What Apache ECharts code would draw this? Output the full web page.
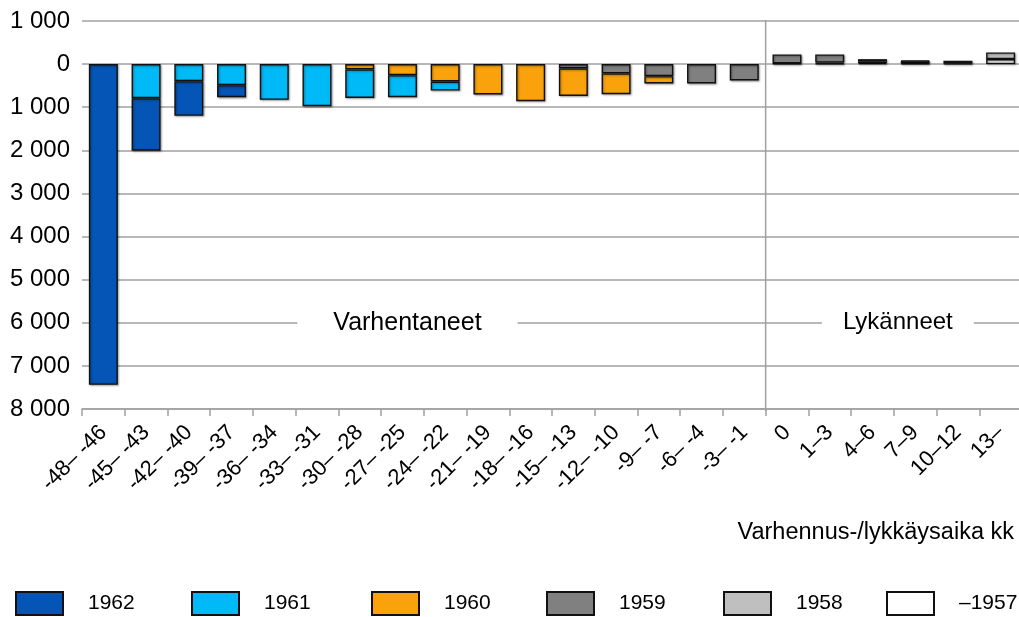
<!DOCTYPE html>
<html>
<head>
<meta charset="utf-8">
<script src="https://cdn.jsdelivr.net/npm/echarts@6/dist/echarts.min.js"></script>
<style>
html,body{margin:0;padding:0;background:#fff;}
#chart{width:1019px;height:617px;}
</style>
</head>
<body>
<div id="chart"></div>
<script>
// Categories: early retirement (Varhentaneet, first 16) and postponed (Lykänneet)
const categories = ['-48– -46','-45– -43','-42– -40','-39– -37','-36– -34','-33– -31','-30– -28','-27– -25','-24– -22','-21– -19','-18– -16','-15– -13','-12– -10','-9– -7','-6– -4','-3– -1','0','1–3','4–6','7–9','10–12','13–'];
const earlyCount = 16; // categories drawn downward (Varhentaneet)

// Counts per birth cohort (positive numbers)
const y1962 = [7440,1220,805,280,0,0,0,0,0,0,0,0,0,0,0,0, 0,0,0,0,0,0];
const y1961 = [0,790,395,488,829,977,660,510,210,0,0,0,0,0,0,0, 0,0,0,0,0,0];
const y1960 = [0,0,0,0,0,0,124,256,403,705,860,637,480,170,0,0, 0,0,0,0,0,0];
const y1959 = [0,0,0,0,0,0,0,0,0,0,0,100,217,279,450,380, 210,190,50,15,0,0];
const y1958 = [0,0,0,0,0,0,0,0,0,0,0,0,0,0,0,0, 15,25,40,45,65,155];
const y1957 = [0,0,0,0,0,0,0,0,0,0,0,0,0,0,0,0, 0,10,25,20,13,116];

const legendOrder = ['1962','1961','1960','1959','1958','–1957'];
const legendLefts = [10,186,366,541,718,881];

const seriesDefs = [
  {name:'–1957', data:y1957, color:'#FFFFFF'},
  {name:'1958', data:y1958, color:'#BFBFBF'},
  {name:'1959', data:y1959, color:'#808080'},
  {name:'1960', data:y1960, color:'#F9A20B'},
  {name:'1961', data:y1961, color:'#00B9F7'},
  {name:'1962', data:y1962, color:'#0455B5'}
];

function fmt(v){
  const a = Math.abs(v);
  return String(a).replace(/\B(?=(\d{3})+(?!\d))/g,' ');
}

const FONT = 'Liberation Sans';
const chart = echarts.init(document.getElementById('chart'), null, {renderer:'canvas'});

const option = {
  animation:false,
  backgroundColor:'#fff',
  textStyle:{fontFamily:FONT},
  title:{
    text:'Varhennus-/lykkäysaika kk',
    right:0, top:516,
    textStyle:{fontFamily:FONT, fontSize:23.5, fontWeight:'normal', color:'#000'}
  },
  legend: legendOrder.map((name, k) => ({
    data:[name],
    left:legendLefts[k], top:586,
    itemWidth:47, itemHeight:23,
    icon:'rect',
    textStyle:{fontFamily:FONT, fontSize:21, color:'#000', padding:[0,0,0,20]}
  })),
  grid:{left:82, width:940, top:21, bottom:208, containLabel:false, outerBoundsMode:'none'},
  xAxis:{
    type:'category',
    data:categories,
    position:'bottom',
    axisLine:{onZero:false, lineStyle:{color:'#A0A0A0', width:1.5}},
    axisTick:{show:true, length:7, alignWithLabel:false, lineStyle:{color:'#A0A0A0', width:1.5}},
    axisLabel:{rotate:45, margin:20, interval:0, fontFamily:FONT, fontSize:22, color:'#000'},
    splitLine:{show:false}
  },
  yAxis:{
    type:'value',
    inverse:true,
    min:-1000, max:8000, interval:1000,
    axisLine:{show:false},
    axisTick:{show:false},
    axisLabel:{formatter:fmt, margin:12, fontFamily:FONT, fontSize:24, color:'#000'},
    splitLine:{lineStyle:{color:'#A0A0A0', width:1.5}}
  },
  series: seriesDefs.map(s => ({
    name:s.name,
    type:'bar',
    stack:'all',
    barWidth:29,
    data:s.data.map((v,i) => v === 0 ? null : (i < earlyCount ? v : -v)),
    itemStyle:{
      color:s.color,
      borderColor:'#111',
      borderWidth:1.4,
      shadowColor:'rgba(0,0,0,0.35)',
      shadowBlur:2,
      shadowOffsetX:1,
      shadowOffsetY:1
    }
  }))
};
chart.setOption(option);

// Section separator and region labels, positioned through the axes
const px = i => chart.convertToPixel({xAxisIndex:0}, i);
const py = v => chart.convertToPixel({yAxisIndex:0}, v);
const sepX = (px(earlyCount-1) + px(earlyCount)) / 2;
chart.setOption({
  graphic:[
    {type:'line', z:5, shape:{x1:sepX, y1:py(-1000)-1, x2:sepX, y2:py(8000)+2},
     style:{stroke:'#A0A0A0', lineWidth:1.5}},
    {type:'text', z:6, x:px(7)+5, y:py(6000),
     style:{text:'Varhentaneet', fill:'#000', font:'25px "Liberation Sans"', align:'center', verticalAlign:'middle',
            backgroundColor:'#fff', padding:[2,36]}},
    {type:'text', z:6, x:(px(18)+px(19))/2 + 4, y:py(6000),
     style:{text:'Lykänneet', fill:'#000', font:'24px "Liberation Sans"', align:'center', verticalAlign:'middle',
            backgroundColor:'#fff', padding:[2,21]}}
  ]
});
</script>
</body>
</html>
